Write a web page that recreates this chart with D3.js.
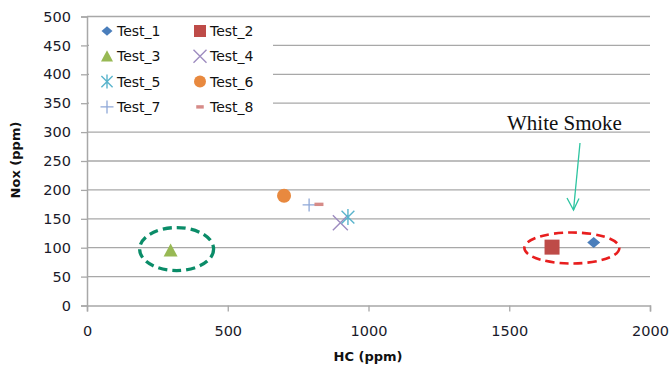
<!DOCTYPE html>
<html><head><meta charset="utf-8">
<script src="https://cdn.jsdelivr.net/npm/d3@7"></script>
<style>body{margin:0;background:#fff}svg{display:block}</style>
</head><body>
<svg id="c" width="671" height="367"></svg>
<script>
// ---- data ----
const seriesNames = ["Test_1","Test_2","Test_3","Test_4","Test_5","Test_6","Test_7","Test_8"];
const hcValues  = [1800, 1652, 297, 900, 927, 700, 789, 824];
const noxValues = [109, 101, 95, 143, 153, 190, 174, 175];
const xTicks = [0, 500, 1000, 1500, 2000];
const yTicks = [0, 50, 100, 150, 200, 250, 300, 350, 400, 450, 500];
const xTitle = "HC (ppm)";
const yTitle = "Nox (ppm)";
const note = "White Smoke";
const groupGreen = [297]; // HC of group circled in green (Test_3)
const groupRed = [1652, 1800]; // HC of group circled in red (Test_2, Test_1)

// ---- styles ----
const shapes = ["diamond","square","triangle","x","asterisk","circle","plus","dash"];
const colors = ["#4a7ebb","#be4b48","#98b954","#9e8cc0","#5ab4cc","#e8893f","#8fa8d8","#d68b88"];

const svg = d3.select("#c");
const x = d3.scaleLinear().domain([0,2000]).range([87,650]);
const y = d3.scaleLinear().domain([0,500]).range([305.5,16.5]);
const grid = "#a8a8a8";

// gridlines
svg.append("g").selectAll("line").data(yTicks.filter(d=>d>0)).join("line")
  .attr("x1",x(0)).attr("x2",x(2000)).attr("y1",d=>y(d)).attr("y2",d=>y(d))
  .attr("stroke",grid).attr("stroke-width",1.3);

// axes
const yAxis = d3.axisLeft(y).tickValues(yTicks).tickFormat(d3.format("d")).tickSize(6).tickPadding(10);
const gy = svg.append("g").attr("transform",`translate(${x(0)},0)`).call(yAxis);
const xAxis = d3.axisBottom(x).tickValues(xTicks).tickFormat(d3.format("d")).tickSize(6).tickPadding(14);
const gx = svg.append("g").attr("transform",`translate(0,${y(0)})`).call(xAxis);
[gx,gy].forEach(g=>{
  g.select(".domain").attr("stroke",grid).attr("stroke-width",1.5);
  g.selectAll(".tick line").attr("stroke",grid).attr("stroke-width",1.3);
  g.selectAll(".tick text").attr("font-family","DejaVu Sans").attr("font-size","14.5px").attr("fill","#1a1a2a");
});

// axis titles
svg.append("text").attr("x",368).attr("y",361).attr("text-anchor","middle")
  .attr("font-family","DejaVu Sans").attr("font-weight","bold").attr("font-size","13px").attr("fill","#111").text(xTitle);
svg.append("text").attr("transform","translate(20,160) rotate(-90)").attr("text-anchor","middle")
  .attr("font-family","DejaVu Sans").attr("font-weight","bold").attr("font-size","13px").attr("fill","#111").text(yTitle);

// marker drawing
function marker(g, shape, color, s){
  const h = s/2;
  switch(shape){
    case "diamond": g.append("path").attr("d",`M0,${-h*0.85}L${h},0L0,${h*0.85}L${-h},0Z`).attr("fill",color); break;
    case "square": g.append("rect").attr("x",-h).attr("y",-h).attr("width",s).attr("height",s).attr("fill",color); break;
    case "triangle": g.append("path").attr("d",`M0,${-h}L${h},${h*0.85}L${-h},${h*0.85}Z`).attr("fill",color); break;
    case "circle": g.append("circle").attr("r",h).attr("fill",color); break;
    case "x": g.append("path").attr("d",`M${-h},${-h}L${h},${h}M${-h},${h}L${h},${-h}`).attr("stroke",color).attr("stroke-width",1.4).attr("fill","none"); break;
    case "asterisk": g.append("path").attr("d",`M${-h*0.8},${-h*0.8}L${h*0.8},${h*0.8}M${-h*0.8},${h*0.8}L${h*0.8},${-h*0.8}M0,${-h}L0,${h}`).attr("stroke",color).attr("stroke-width",1.4).attr("fill","none"); break;
    case "plus": g.append("path").attr("d",`M${-h},0L${h},0M0,${-h}L0,${h}`).attr("stroke",color).attr("stroke-width",1.3).attr("fill","none"); break;
    case "dash": g.append("rect").attr("x",-h*0.75).attr("y",-1.7).attr("width",h*1.5).attr("height",3.4).attr("fill",color); break;
  }
}
const plotSizes = {diamond:13,square:15,triangle:14,circle:14,x:15,asterisk:16,plus:13,dash:12};
const legSizes = {diamond:11,square:12,triangle:12,circle:12,x:13,asterisk:14,plus:13,dash:10};

// legend
const leg = svg.append("g");
leg.append("rect").attr("x",89).attr("y",19).attr("width",184).attr("height",100).attr("fill","#fff");
seriesNames.forEach((n,i)=>{
  const col = i%2, row = Math.floor(i/2);
  const lx = col===0 ? 107 : 200, ly = 31 + row*25.3;
  const g = leg.append("g").attr("transform",`translate(${lx},${ly})`);
  marker(g, shapes[i], colors[i], legSizes[shapes[i]]);
  leg.append("text").attr("x",lx+10).attr("y",ly+5).attr("font-family","DejaVu Sans").attr("font-size","14px").attr("fill","#111").text(n);
});

// points
seriesNames.forEach((n,i)=>{
  const g = svg.append("g").attr("transform",`translate(${x(hcValues[i])},${y(noxValues[i])})`);
  marker(g, shapes[i], colors[i], plotSizes[shapes[i]]);
});

// annotation ellipses
const gi = seriesNames.indexOf("Test_3");
svg.append("ellipse").attr("cx",x(groupGreen[0])+6).attr("cy",y(noxValues[gi])-1.5).attr("rx",37).attr("ry",21.5)
  .attr("fill","none").attr("stroke","#0a8c68").attr("stroke-width",3.3).attr("stroke-dasharray","9,5");
const redMid = (groupRed[0]+groupRed[1])/2;
svg.append("ellipse").attr("cx",x(redMid)-1).attr("cy",248).attr("rx",47.5).attr("ry",15.5)
  .attr("fill","none").attr("stroke","#e81e1e").attr("stroke-width",2.6).attr("stroke-dasharray","9,5");

// arrow + note
const ac = "#2cc4a0";
svg.append("line").attr("x1",580).attr("y1",143).attr("x2",573.5).attr("y2",210).attr("stroke",ac).attr("stroke-width",1.3);
svg.append("path").attr("d","M567,198L573.5,210L579,198.5").attr("stroke",ac).attr("stroke-width",1.3).attr("fill","none");
svg.append("text").attr("x",507).attr("y",130).attr("font-family","Liberation Serif").attr("font-size","21px").attr("fill","#111").text(note);
</script>
</body></html>
